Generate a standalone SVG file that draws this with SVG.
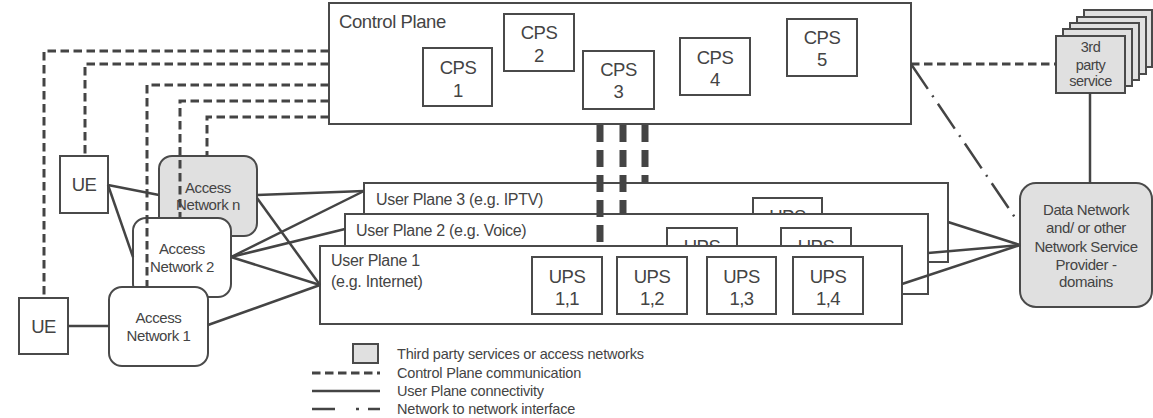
<svg xmlns="http://www.w3.org/2000/svg" width="1153" height="418" viewBox="0 0 1153 418">
<style>
text{font-family:"Liberation Sans",Arial,sans-serif;fill:#444}
.box{fill:#fff;stroke:#4a4a4a;stroke-width:2}
.gray{fill:#e0e0e0;stroke:#4a4a4a;stroke-width:2}
.t18{font-size:18.5px;text-anchor:middle;letter-spacing:-0.5px}
.t15{font-size:15px;text-anchor:middle;letter-spacing:-0.4px}
.t14{font-size:14.5px;text-anchor:middle;letter-spacing:-0.5px}
.lab{font-size:16px;letter-spacing:-0.3px}
.leg{font-size:14.5px;letter-spacing:-0.2px}
.dash{fill:none;stroke:#444;stroke-width:3;stroke-dasharray:8.5 4.5}
.solid{fill:none;stroke:#444;stroke-width:2.5}
.dd{fill:none;stroke:#444;stroke-width:2.5;stroke-dasharray:30 8 2 8}
.thick{fill:none;stroke:#444;stroke-width:7;stroke-dasharray:17 8}
</style>

<g id="control-plane">
<rect class="box" x="329" y="3" width="582" height="121"/>
<text x="339" y="27.5" style="font-size:18.5px;letter-spacing:-0.4px">Control Plane</text>
</g>
<g id="cps1"><rect class="box" x="423" y="48" width="69" height="58"/><text class="t18" x="458" y="74">CPS</text><text class="t18" x="458" y="97">1</text></g>
<g id="cps2"><rect class="box" x="504" y="14" width="70" height="57"/><text class="t18" x="539" y="39">CPS</text><text class="t18" x="539" y="62">2</text></g>
<g id="cps3"><rect class="box" x="583" y="51" width="71" height="58"/><text class="t18" x="618.5" y="76">CPS</text><text class="t18" x="618.5" y="98">3</text></g>
<g id="cps4"><rect class="box" x="680" y="38" width="70" height="57"/><text class="t18" x="715" y="64">CPS</text><text class="t18" x="715" y="86">4</text></g>
<g id="cps5"><rect class="box" x="787" y="19" width="70" height="57"/><text class="t18" x="822" y="44">CPS</text><text class="t18" x="822" y="66">5</text></g>

<g id="third-party">
<rect class="gray" x="1084" y="10" width="68" height="57"/>
<rect class="gray" x="1077" y="17" width="69" height="57"/>
<rect class="gray" x="1070" y="23" width="69" height="57"/>
<rect class="gray" x="1063" y="29" width="69" height="57"/>
<rect class="gray" x="1056" y="36" width="69" height="57"/>
<text class="t14" x="1090.5" y="52">3rd</text>
<text class="t14" x="1090.5" y="70">party</text>
<text class="t14" x="1090.5" y="86">service</text>
</g>

<g id="data-network">
<rect class="gray" x="1020" y="183" width="132" height="124" rx="16"/>
<text class="t15" x="1086" y="215">Data Network</text>
<text class="t15" x="1086" y="233">and/ or other</text>
<text class="t15" x="1086" y="252">Network Service</text>
<text class="t15" x="1086" y="270">Provider -</text>
<text class="t15" x="1086" y="287">domains</text>
</g>

<g id="user-plane-3">
<rect class="box" x="364" y="183" width="584" height="79"/>
<text class="lab" x="376" y="205">User Plane 3 (e.g. IPTV)</text>
<rect class="box" x="753" y="198" width="69" height="57"/>
<text class="t18" x="787.5" y="223">UPS</text>
</g>
<g id="user-plane-2">
<rect class="box" x="345" y="214" width="583" height="80"/>
<text class="lab" x="356" y="236">User Plane 2 (e.g. Voice)</text>
<rect class="box" x="667" y="228" width="70" height="57"/>
<text class="t18" x="702" y="253">UPS</text>
<rect class="box" x="781" y="228" width="70" height="57"/>
<text class="t18" x="816" y="253">UPS</text>
</g>
<g id="user-plane-1">
<rect class="box" x="320" y="246" width="582" height="78"/>
<text class="lab" x="331" y="266">User Plane 1</text>
<text class="lab" x="331" y="287">(e.g. Internet)</text>
</g>
<g id="ups11"><rect class="box" x="532" y="257" width="70" height="57"/><text class="t18" x="567" y="282.5">UPS</text><text class="t18" x="567" y="304.5">1,1</text></g>
<g id="ups12"><rect class="box" x="617" y="257" width="70" height="57"/><text class="t18" x="652" y="282.5">UPS</text><text class="t18" x="652" y="304.5">1,2</text></g>
<g id="ups13"><rect class="box" x="707" y="257" width="69" height="57"/><text class="t18" x="741.5" y="282.5">UPS</text><text class="t18" x="741.5" y="304.5">1,3</text></g>
<g id="ups14"><rect class="box" x="793" y="257" width="70" height="57"/><text class="t18" x="828" y="282.5">UPS</text><text class="t18" x="828" y="304.5">1,4</text></g>

<g id="ue1"><rect class="box" x="60" y="156" width="48" height="57"/><text class="t18" x="84" y="191">UE</text></g>
<g id="ue2"><rect class="box" x="19" y="298" width="49" height="56"/><text class="t18" x="43.5" y="333">UE</text></g>

<g id="access-network-n"><rect class="gray" x="159" y="156" width="98" height="80" rx="13"/><text class="t15" x="208" y="193">Access</text><text class="t15" x="208" y="210">Network n</text></g>
<g id="access-network-2"><rect class="box" x="133" y="218" width="98" height="79" rx="13"/><text class="t15" x="182" y="254">Access</text><text class="t15" x="182" y="272">Network 2</text></g>
<g id="access-network-1"><rect class="box" x="109" y="287" width="99" height="79" rx="13"/><text class="t15" x="158.5" y="323">Access</text><text class="t15" x="158.5" y="341">Network 1</text></g>

<g id="connectors">
<path class="dash" d="M329 51H44V298"/>
<path class="dash" d="M329 64H85V156"/>
<path class="dash" d="M329 85H147V287"/>
<path class="dash" d="M329 101H180V218"/>
<path class="dash" d="M329 117H207V156"/>
<path class="dash" d="M911 64H1056"/>
<path class="dd" d="M911 64L1018 222"/>
<path class="solid" d="M1090 93V183"/>
<path class="thick" d="M600 125V246"/>
<path class="thick" d="M623 125V214"/>
<path class="thick" d="M645 125V183"/>
<path class="solid" d="M108 185L159 195"/>
<path class="solid" d="M108 185L133 257"/>
<path class="solid" d="M68 326H109"/>
<path class="solid" d="M257 195L364 191"/>
<path class="solid" d="M257 198L320 285"/>
<path class="solid" d="M231 257L364 191"/>
<path class="solid" d="M231 257L345 229"/>
<path class="solid" d="M231 257L320 285"/>
<path class="solid" d="M208 325L320 285"/>
<path class="solid" d="M948 222L1020 245"/>
<path class="solid" d="M928 253L1020 245"/>
<path class="solid" d="M902 284L1020 245"/>
</g>

<g id="legend">
<rect class="gray" x="353" y="344" width="25" height="19"/>
<path class="dash" d="M312 373H380"/>
<path class="solid" d="M312 391H380"/>
<path class="solid" d="M312 409H335M356 409H359M368 409H380"/>
<text class="leg" x="397" y="359">Third party services or access networks</text>
<text class="leg" x="397" y="378">Control Plane communication</text>
<text class="leg" x="397" y="396">User Plane connectivity</text>
<text class="leg" x="397" y="414">Network to network interface</text>
</g>
</svg>
